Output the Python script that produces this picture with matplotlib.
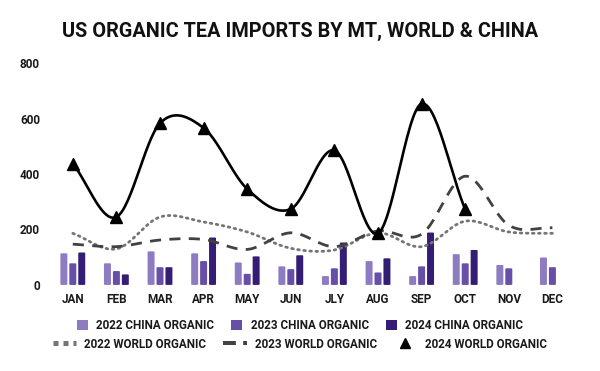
import numpy as np
import matplotlib.pyplot as plt
from matplotlib.lines import Line2D
from matplotlib.patches import Patch, FancyBboxPatch

plt.rcParams['font.family'] = ['Roboto', 'DejaVu Sans']

months = ['JAN', 'FEB', 'MAR', 'APR', 'MAY', 'JUN', 'JLY', 'AUG', 'SEP', 'OCT', 'NOV', 'DEC']

china_2022 = [114, 78, 121, 114, 81, 67, 32, 86, 32, 111, 72, 99]
china_2023 = [78, 50, 64, 86, 40, 57, 60, 45, 67, 78, 60, 64]
china_2024 = [117, 38, 64, 171, 103, 107, 153, 96, 189, 126, None, None]

world_2022 = [186, 130, 245, 227, 191, 132, 126, 188, 138, 230, 191, 186]
world_2023 = [147, 138, 162, 164, 128, 188, 138, 195, 183, 392, 215, 206]
world_2024 = [437, 245, 583, 566, 346, 274, 485, 186, 653, 272]

c22, c23, c24 = '#8e7cc3', '#674ea7', '#351c75'


def smooth(y, n=30):
    # catmull-rom style curve through the points, like the sheet's "smooth" lines
    y = np.asarray(y, float)
    x = np.arange(len(y), dtype=float)
    p = np.concatenate([[2 * y[0] - y[1]], y, [2 * y[-1] - y[-2]]])
    xs, ys = [], []
    for i in range(len(y) - 1):
        t = np.linspace(0, 1, n, endpoint=False)
        p0, p1, p2, p3 = p[i], p[i + 1], p[i + 2], p[i + 3]
        m1 = (p2 - p0) / 2
        m2 = (p3 - p1) / 2
        h00 = 2 * t**3 - 3 * t**2 + 1
        h10 = t**3 - 2 * t**2 + t
        h01 = -2 * t**3 + 3 * t**2
        h11 = t**3 - t**2
        xs.append(x[i] + t)
        ys.append(h00 * p1 + h10 * m1 + h01 * p2 + h11 * m2)
    xs.append([x[-1]])
    ys.append([y[-1]])
    return np.concatenate(xs), np.concatenate(ys)


fig = plt.figure(figsize=(6, 3.71), dpi=100)
ax = fig.add_axes([0.085, 0.232, 0.872, 0.598])

x = np.arange(len(months))
bw = 0.16
off = 0.205
for vals, col, dx in [(china_2022, c22, -off), (china_2023, c23, 0), (china_2024, c24, off)]:
    for xi, v in zip(x, vals):
        if v is None:
            continue
        ax.add_patch(FancyBboxPatch((xi + dx - bw / 2, 0), bw, v,
                                    boxstyle='round,pad=0,rounding_size=0.04',
                                    mutation_aspect=45, fc=col, ec='none', zorder=2))

sx, sy = smooth(world_2022)
ax.plot(sx, sy, color='#757575', lw=2, ls=(0, (0.6, 1.6)), dash_capstyle='round', zorder=3)
sx, sy = smooth(world_2023)
ax.plot(sx, sy, color='#424242', lw=2, ls=(0, (4, 3)), zorder=3)
sx, sy = smooth(world_2024)
ax.plot(sx, sy, color='black', lw=1.9, zorder=4)
ax.plot(np.arange(len(world_2024)), world_2024, ls='none', marker='^', ms=8,
        color='black', zorder=5)

ax.set_xlim(-0.5, 11.5)
ax.set_ylim(0, 800)
ax.set_yticks([0, 200, 400, 600, 800])
ax.set_xticks(x)
ax.set_xticklabels(months)
for s in ax.spines.values():
    s.set_visible(False)
ax.tick_params(length=0, labelsize=8.5, colors='#1a1a1a', pad=6)
ax.tick_params(axis='y', pad=8)
for lab in ax.get_xticklabels() + ax.get_yticklabels():
    lab.set_fontweight('bold')

fig.suptitle('US ORGANIC TEA IMPORTS BY MT, WORLD & CHINA', x=0.5, y=0.94,
             fontsize=14.3, fontweight='bold', color='#111111')

h1 = [Patch(fc=c22), Patch(fc=c23), Patch(fc=c24)]
l1 = ['2022 CHINA ORGANIC', '2023 CHINA ORGANIC', '2024 CHINA ORGANIC']
h2 = [Line2D([], [], color='#757575', lw=3.6, ls=(0, (1, 1)), dash_capstyle='butt'),
      Line2D([], [], color='#424242', lw=2.9, ls=(0, (3.2, 1.8)), dash_capstyle='butt'),
      Line2D([], [], color='black', ls='none', marker='^', ms=7)]
l2 = ['2022 WORLD ORGANIC', '2023 WORLD ORGANIC', '2024 WORLD ORGANIC']
leg_kw = dict(ncol=3, frameon=False, handlelength=0.95, handleheight=0.95,
              handletextpad=0.7, columnspacing=1.45,
              prop={'weight': 'bold', 'size': 8.4})
leg1 = fig.legend(h1, l1, loc='center', bbox_to_anchor=(0.5, 0.122), **leg_kw)
leg2 = fig.legend(h2, l2, loc='center', bbox_to_anchor=(0.5, 0.072),
                  **{**leg_kw, 'handlelength': 2.0})
for lg in (leg1, leg2):
    for t in lg.get_texts():
        t.set_color('#1a1a1a')

fig.savefig('out.png', dpi=100)
